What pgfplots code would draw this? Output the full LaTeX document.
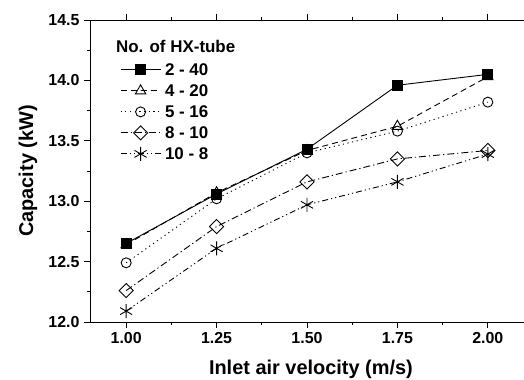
\documentclass[border=0pt]{standalone}
\usepackage{fontspec}
\setmainfont{Liberation Sans}
\usepackage{pgfplots}
\pgfplotsset{compat=1.18}
\begin{document}
\begin{tikzpicture}[x=1bp,y=1bp]
\useasboundingbox (-90bp,-58bp) rectangle (434bp,322bp);
\begin{axis}[
  at={(0,0)}, anchor=south west,
  scale only axis, width=434bp, height=302bp,
  xmin=0.9, xmax=2.1, ymin=12.0, ymax=14.5,
  /pgf/number format/assume math mode=true,
  xtick={1.00,1.25,1.50,1.75,2.00},
  xticklabels={\textbf{1.00},\textbf{1.25},\textbf{1.50},\textbf{1.75},\textbf{2.00}},
  ytick={12.0,12.5,13.0,13.5,14.0,14.5},
  yticklabels={\textbf{12.0},\textbf{12.5},\textbf{13.0},\textbf{13.5},\textbf{14.0},\textbf{14.5}},
  minor x tick num=1, minor y tick num=1,
  tick align=outside,
  major tick length=6bp, minor tick length=3bp,
  tick style={black, line width=0.8pt},
  axis line style={line width=0.8pt},
  ticklabel style={font=\fontsize{16}{18}\selectfont\bfseries},
  yticklabel style={xshift=-1bp},
  xticklabel style={yshift=-1bp},
  xlabel={Inlet air velocity (m/s)},
  ylabel={Capacity (kW)},
  every axis x label/.style={at={(axis description cs:0.509,-0.156)}, anchor=center, font=\fontsize{20}{22}\selectfont\bfseries},
  every axis y label/.style={at={(axis description cs:-0.143,0.5)}, anchor=center, rotate=90, font=\fontsize{20}{22}\selectfont\bfseries},
  legend style={draw=none, fill=none, inner sep=0pt, at={(0.069,0.862)}, anchor=north west,
    font=\fontsize{17}{19}\selectfont\bfseries, row sep=5bp, column sep=2bp,
    nodes={inner sep=2bp, text height=12bp, text depth=0bp}},
  legend cell align=left,
  legend image code/.code={\draw[mark repeat=2,mark phase=2] plot coordinates {(0bp,0bp) (20bp,0bp) (40bp,0bp)};},
]
\node[anchor=west, font=\fontsize{17}{19}\selectfont\bfseries] at (axis description cs:0.052,0.914) {No. of HX-tube};
\addplot[black, line width=0.9pt, mark=square*, mark size=5bp, mark options={solid}] coordinates {
 (1.00,12.65) (1.25,13.06) (1.50,13.43) (1.75,13.96) (2.00,14.05)};
\addlegendentry{2 - 40}
\addplot[black, line width=0.9pt, dash pattern=on 6bp off 4bp, mark=triangle, mark size=6bp, mark options={solid, fill=white}] coordinates {
 (1.00,12.64) (1.25,13.07) (1.50,13.42) (1.75,13.62) (2.00,14.03)};
\addlegendentry{4 - 20}
\addplot[black, line width=0.9pt, dash pattern=on 1.2bp off 3.5bp, mark=o, mark size=5bp, mark options={solid}] coordinates {
 (1.00,12.49) (1.25,13.02) (1.50,13.40) (1.75,13.58) (2.00,13.82)};
\addlegendentry{5 - 16}
\addplot[black, line width=0.9pt, dash pattern=on 7bp off 3bp on 1.2bp off 3bp, mark=square, mark size=5bp, mark options={solid, rotate=45}] coordinates {
 (1.00,12.26) (1.25,12.79) (1.50,13.16) (1.75,13.35) (2.00,13.42)};
\addlegendentry{8 - 10}
\addplot[black, line width=0.9pt, dash pattern=on 6bp off 3bp on 1.2bp off 3bp on 1.2bp off 3bp, mark=asterisk, mark size=7bp, mark options={solid}] coordinates {
 (1.00,12.09) (1.25,12.61) (1.50,12.97) (1.75,13.16) (2.00,13.39)};
\addlegendentry{10 - 8}
\end{axis}
\end{tikzpicture}
\end{document}
